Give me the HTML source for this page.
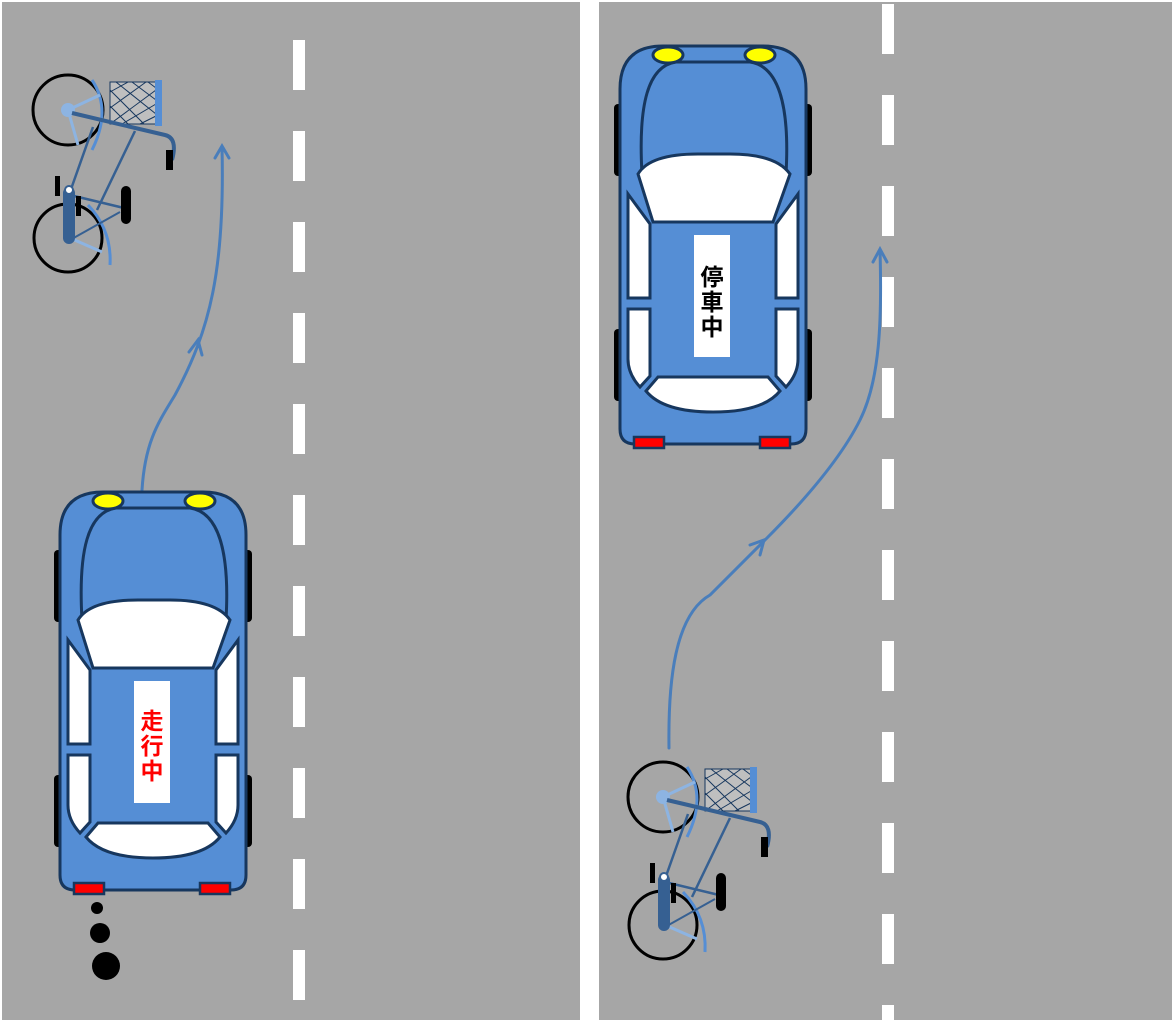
<!DOCTYPE html>
<html><head><meta charset="utf-8"><style>
body{margin:0;background:#fff}
svg{display:block}
</style></head><body>
<svg width="1172" height="1022" viewBox="0 0 1172 1022" xmlns="http://www.w3.org/2000/svg">
<defs>
<g id="car">
  <rect x="-4" y="60" width="10" height="72" rx="4" fill="#000"/>
  <rect x="-4" y="285" width="10" height="72" rx="4" fill="#000"/>
  <rect x="184" y="60" width="10" height="72" rx="4" fill="#000"/>
  <rect x="184" y="285" width="10" height="72" rx="4" fill="#000"/>
  <path d="M2,45 Q2,2 45,2 L145,2 Q188,2 188,45 L188,385 Q188,400 173,400 L17,400 Q2,400 2,385 Z" fill="#558ed5" stroke="#17375e" stroke-width="3"/>
  <path d="M24,130 C20,60 30,22 58,18 L132,18 C160,22 172,60 168,130" fill="none" stroke="#17375e" stroke-width="3"/>
  <ellipse cx="50" cy="11" rx="15" ry="8" fill="#ffff00" stroke="#17375e" stroke-width="3"/>
  <ellipse cx="142" cy="11" rx="15" ry="8" fill="#ffff00" stroke="#17375e" stroke-width="3"/>
  <path d="M20,130 Q32,110 80,110 L112,110 Q158,110 172,130 L155,178 L35,178 Z" fill="#fff" stroke="#17375e" stroke-width="3"/>
  <path d="M10,150 L32,180 L32,254 L10,254 Z" fill="#fff" stroke="#17375e" stroke-width="3"/>
  <path d="M180,150 L158,180 L158,254 L180,254 Z" fill="#fff" stroke="#17375e" stroke-width="3"/>
  <path d="M10,265 L32,265 L32,332 L22,343 Q10,330 10,315 Z" fill="#fff" stroke="#17375e" stroke-width="3"/>
  <path d="M180,265 L158,265 L158,332 L168,343 Q180,330 180,315 Z" fill="#fff" stroke="#17375e" stroke-width="3"/>
  <path d="M28,347 L40,333 L150,333 L162,347 Q145,368 95,368 Q45,368 28,347 Z" fill="#fff" stroke="#17375e" stroke-width="3"/>
  <rect x="16" y="393" width="30" height="11" fill="#ff0000" stroke="#17375e" stroke-width="2.5"/>
  <rect x="142" y="393" width="30" height="11" fill="#ff0000" stroke="#17375e" stroke-width="2.5"/>
  <rect x="76" y="191" width="36" height="122" fill="#fff"/>
</g>
<g id="bike">
  <circle cx="68" cy="110" r="35" fill="none" stroke="#000" stroke-width="3"/>
  <circle cx="68" cy="238" r="34" fill="none" stroke="#000" stroke-width="3"/>
  <path d="M92,80 Q112,110 92,150" fill="none" stroke="#558ed5" stroke-width="3"/>
  <path d="M88,205 Q112,230 110,265" fill="none" stroke="#558ed5" stroke-width="3"/>
  <line x1="68" y1="110" x2="100" y2="95" stroke="#8db4e2" stroke-width="3"/>
  <line x1="68" y1="110" x2="78" y2="145" stroke="#8db4e2" stroke-width="3"/>
  <line x1="70" y1="238" x2="102" y2="252" stroke="#8db4e2" stroke-width="3"/>
  <circle cx="68" cy="110" r="7" fill="#8db4e2"/>
  <rect x="110" y="82" width="46" height="42" fill="#bfbfbf" stroke="#17375e" stroke-width="1"/>
  <path d="M110,92 L128,82 M110,108 L146,82 M110,124 L156,90 M122,124 L156,104 M140,124 L156,116 M110,90 L144,124 M116,82 L156,114 M132,82 L156,100 M148,82 L156,88 M110,106 L128,124" stroke="#17375e" stroke-width="1"/>
  <rect x="155" y="80" width="7" height="46" fill="#558ed5"/>
  <path d="M72,113 L165,135 Q178,138 172,160" fill="none" stroke="#366092" stroke-width="4"/>
  <rect x="166" y="150" width="7" height="20" fill="#000"/>
  <line x1="93" y1="127" x2="70" y2="192" stroke="#366092" stroke-width="2.5"/>
  <line x1="135" y1="131" x2="97" y2="210" stroke="#366092" stroke-width="2.5"/>
  <line x1="70" y1="195" x2="124" y2="208" stroke="#366092" stroke-width="2.5"/>
  <line x1="70" y1="240" x2="120" y2="212" stroke="#366092" stroke-width="2"/>
  <rect x="121" y="186" width="10" height="38" rx="5" fill="#000"/>
  <rect x="55" y="176" width="5" height="20" fill="#000"/>
  <rect x="76" y="196" width="5" height="20" fill="#000"/>
  <rect x="63" y="187" width="12" height="57" rx="6" fill="#366092"/>
  <circle cx="69" cy="190" r="4" fill="#fff" stroke="#366092" stroke-width="2"/>
</g>
</defs>
<rect x="2" y="2" width="578" height="1018" fill="#a6a6a6"/>
<rect x="599" y="2" width="573" height="1018" fill="#a6a6a6"/>
<g fill="#fff">
  <rect x="293" y="40" width="12" height="50"/><rect x="293" y="131" width="12" height="50"/>
  <rect x="293" y="222" width="12" height="50"/><rect x="293" y="313" width="12" height="50"/>
  <rect x="293" y="404" width="12" height="50"/><rect x="293" y="495" width="12" height="50"/>
  <rect x="293" y="586" width="12" height="50"/><rect x="293" y="677" width="12" height="50"/>
  <rect x="293" y="768" width="12" height="50"/><rect x="293" y="859" width="12" height="50"/>
  <rect x="293" y="950" width="12" height="50"/>
  <rect x="882" y="4" width="12" height="50"/><rect x="882" y="95" width="12" height="50"/>
  <rect x="882" y="186" width="12" height="50"/><rect x="882" y="277" width="12" height="50"/>
  <rect x="882" y="368" width="12" height="50"/><rect x="882" y="459" width="12" height="50"/>
  <rect x="882" y="550" width="12" height="50"/><rect x="882" y="641" width="12" height="50"/>
  <rect x="882" y="732" width="12" height="50"/><rect x="882" y="823" width="12" height="50"/>
  <rect x="882" y="914" width="12" height="50"/><rect x="882" y="1005" width="12" height="17"/>
</g>
<g fill="none" stroke="#4a7ebb" stroke-width="3" stroke-linecap="round">
  <path d="M142,490 C145,440 160,420 175,395 C210,330 225,270 222,147"/>
  <path d="M215,158 L222,146 L229,158"/>
  <path d="M189,352 L198,340 L202,355"/>
  <path d="M669,748 C668,680 675,615 710,595 L765,540 C800,505 840,460 860,420 C880,380 882,320 880,250"/>
  <path d="M873,262 L880,249 L887,262"/>
  <path d="M750,545 L764,540 L760,555"/>
</g>
<use href="#car" x="58" y="490"/>
<use href="#car" x="618" y="44"/>
<g font-family="'Liberation Sans','Noto Sans CJK JP',sans-serif" font-weight="bold" font-size="23" text-anchor="middle">
  <text x="152" y="729" fill="#ff0000">走</text>
  <text x="152" y="754" fill="#ff0000">行</text>
  <text x="152" y="779" fill="#ff0000">中</text>
  <text x="712" y="285" fill="#000">停</text>
  <text x="712" y="310" fill="#000">車</text>
  <text x="712" y="335" fill="#000">中</text>
</g>
<use href="#bike" x="0" y="0"/>
<use href="#bike" x="595" y="687"/>
<circle cx="97" cy="908" r="6" fill="#000"/>
<circle cx="100" cy="933" r="10" fill="#000"/>
<circle cx="106" cy="966" r="14" fill="#000"/>
</svg>
</body></html>
